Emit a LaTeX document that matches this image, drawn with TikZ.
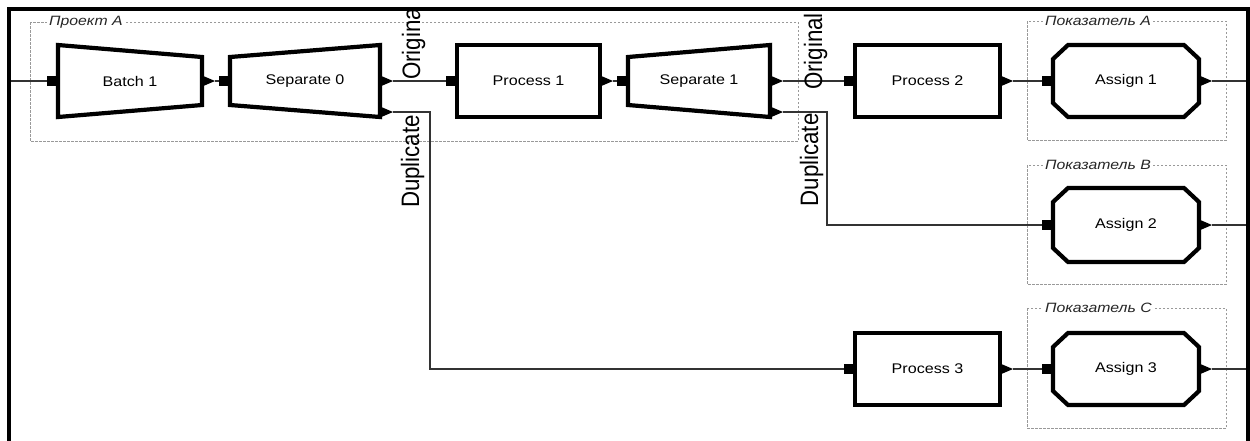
\documentclass[tikz,border=0pt]{standalone}
\usepackage{fontspec}
\setmainfont{Liberation Sans}
\usepackage{graphicx}
\usetikzlibrary{calc}
\newcommand{\hs}[1]{\scalebox{1.15}[1]{#1}}
\newcommand{\outp}[2]{\coordinate (#1) at ($#2+(13,0)$);
  \fill ($#2+(-1,-6)$) -- (#1) -- ($#2+(-1,6)$) -- cycle;}
\newcommand{\procbox}[1]{\draw[outl] (#1.north west) rectangle (#1.south east);}
\newcommand{\trapL}[1]{\draw[outl] (#1.north west) -- ($(#1.north east)+(0,12)$) -- ($(#1.south east)+(0,-12)$) -- (#1.south west) -- cycle;}
\newcommand{\trapR}[1]{\draw[outl] ($(#1.north west)+(0,12)$) -- (#1.north east) -- (#1.south east) -- ($(#1.south west)+(0,-12)$) -- cycle;}
\newcommand{\octa}[1]{\draw[outl] ($(#1.north west)+(15,0)$) -- ($(#1.north east)+(-15,0)$) -- ($(#1.north east)+(0,14)$) -- ($(#1.south east)+(0,-14)$) -- ($(#1.south east)+(-15,0)$) -- ($(#1.south west)+(15,0)$) -- ($(#1.south west)+(0,-14)$) -- ($(#1.north west)+(0,14)$) -- cycle;}
\begin{document}
\begin{tikzpicture}[x=1pt,y=-1pt,
  outl/.style={line width=4.2pt, line join=miter, draw=black},
  conn/.style={line width=1.4pt, draw=black!80},
  grp/.style={draw=black!40, dash pattern=on 2.5pt off 1.5pt, line width=0.7pt},
  grplabel/.style={fill=white, inner xsep=2pt, inner ysep=1pt, anchor=west, text=black!85,
    font=\fontsize{13.5}{14}\selectfont\itshape},
  blk/.style={inner sep=0pt, outer sep=0pt, minimum width=#1, minimum height=72pt,
    font=\fontsize{14}{15}\selectfont},
  blk/.default=144pt,
  inport/.style={fill=black, inner sep=0pt, outer sep=0pt, minimum width=11pt, minimum height=10pt, anchor=east},
  rlabel/.style={transform shape, rotate=90, anchor=base, inner sep=0pt, outer sep=0pt,
    font=\fontsize{22.3}{22}\selectfont}]
\useasboundingbox (0,0) rectangle (1250,440);
\fill[white] (0,0) rectangle (1250,440);

% group boxes
\draw[grp] (30,22) rectangle (798,141);
\node[grplabel] (gA) at (47,22) {\scalebox{1.17}[1]{Проект A}};
\draw[grp] (1027,21) rectangle (1226,140);
\node[grplabel] (gPA) at (1043,21) {\scalebox{1.17}[1]{Показатель A}};
\draw[grp] (1027,165) rectangle (1226,284);
\node[grplabel] (gPB) at (1043,165) {\scalebox{1.17}[1]{Показатель B}};
\draw[grp] (1027,308) rectangle (1226,428);
\node[grplabel] (gPC) at (1043,308) {\scalebox{1.17}[1]{Показатель C}};

% blocks
\node[blk=144pt] (b1) at (130,81) {\hs{Batch 1}};
\node[blk=150pt] (s0) at (305,81) {\hs{Separate 0}};
\node[blk=143pt] (p1) at (528.5,81) {\hs{Process 1}};
\node[blk=142pt] (s1) at (699,81) {\hs{Separate 1}};
\node[blk=145pt] (p2) at (927.5,81) {\hs{Process 2}};
\node[blk=146pt] (a1) at (1126,81) {\hs{Assign 1}};
\node[blk=146pt, minimum height=74pt] (a2) at (1126,225) {\hs{Assign 2}};
\node[blk=145pt] (p3) at (927.5,369) {\hs{Process 3}};
\node[blk=146pt] (a3) at (1126,369) {\hs{Assign 3}};

\trapL{b1}
\trapR{s0}
\procbox{p1}
\trapR{s1}
\procbox{p2}
\octa{a1}
\octa{a2}
\procbox{p3}
\octa{a3}

% input ports
\node[inport] (b1i) at (b1.west) {};
\node[inport] (s0i) at (s0.west) {};
\node[inport] (p1i) at (p1.west) {};
\node[inport] (s1i) at (s1.west) {};
\node[inport] (p2i) at (p2.west) {};
\node[inport] (a1i) at (a1.west) {};
\node[inport] (a2i) at (a2.west) {};
\node[inport] (p3i) at (p3.west) {};
\node[inport] (a3i) at (a3.west) {};

% output ports
\outp{b1o}{(b1.east)}
\outp{s0o}{(s0.east)}
\coordinate (s0db) at ($(s0.south east)+(0,-5)$);
\outp{s0d}{(s0db)}
\outp{p1o}{(p1.east)}
\outp{s1o}{(s1.east)}
\coordinate (s1db) at ($(s1.south east)+(0,-5)$);
\outp{s1d}{(s1db)}
\outp{p2o}{(p2.east)}
\outp{a1o}{(a1.east)}
\outp{a2o}{(a2.east)}
\outp{p3o}{(p3.east)}
\outp{a3o}{(a3.east)}

% frame ends
\coordinate (inL) at (9,81);
\coordinate (out1) at (1248,81);
\coordinate (out2) at (1248,225);
\coordinate (out3) at (1248,369);

% connectors
\draw[conn] (inL) -- (b1i.west);
\draw[conn] (b1o) -- (s0i.west);
\draw[conn] (s0o) -- (p1i.west);
\draw[conn] (s0d) -- ++(37,0) |- (p3i.west);
\draw[conn] (p1o) -- (s1i.west);
\draw[conn] (s1o) -- (p2i.west);
\draw[conn] (s1d) -- ++(44,0) |- (a2i.west);
\draw[conn] (p2o) -- (a1i.west);
\draw[conn] (a1o) -- (out1);
\draw[conn] (a2o) -- (out2);
\draw[conn] (p3o) -- (a3i.west);
\draw[conn] (a3o) -- (out3);

% rotated labels
\begin{scope}
\clip (11,11) rectangle (1246,440);
\begin{scope}[shift={(420,41.5)}, xscale=1.13]
\node[rlabel] (o1) at (0,0) {Original};
\end{scope}
\begin{scope}[shift={(822,51.5)}, xscale=1.13]
\node[rlabel] (o2) at (0,0) {Original};
\end{scope}
\begin{scope}[shift={(419,161.5)}, xscale=1.13]
\node[rlabel] (d1) at (0,0) {Duplicate};
\end{scope}
\begin{scope}[shift={(818,160)}, xscale=1.13]
\node[rlabel] (d2) at (0,0) {Duplicate};
\end{scope}
\end{scope}

% frame
\draw[line width=4pt, line join=miter] (9,460) -- (9,9) -- (1248,9) -- (1248,460);
\end{tikzpicture}
\end{document}
